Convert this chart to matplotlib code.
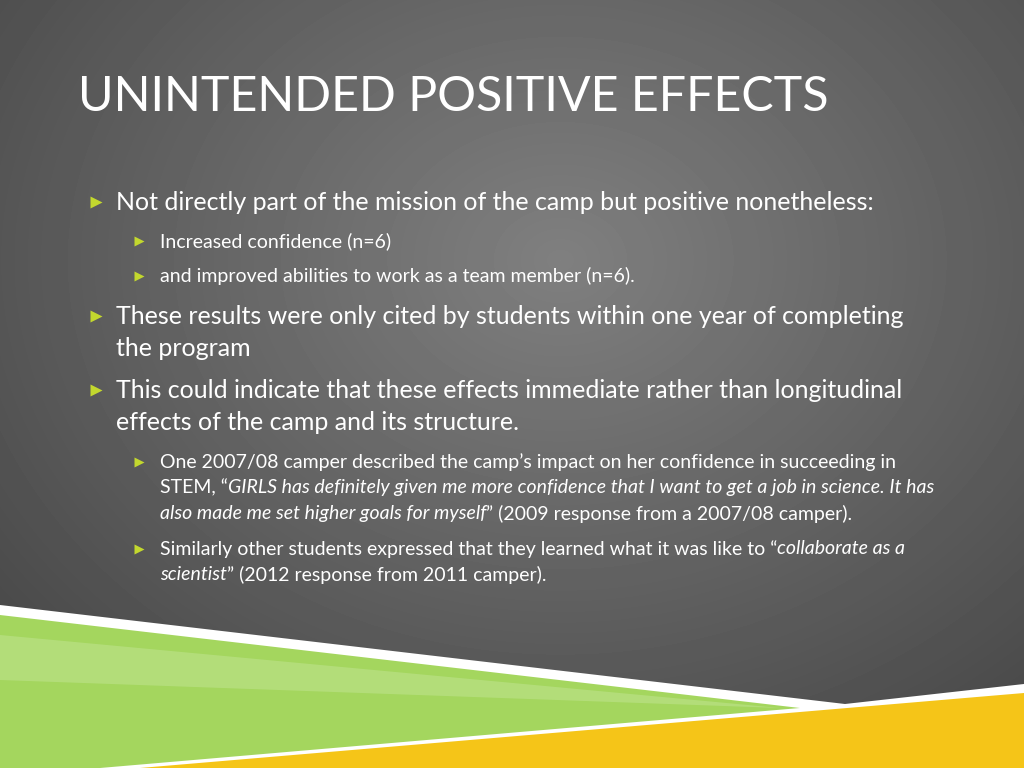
import numpy as np
import matplotlib
matplotlib.use("Agg")
import matplotlib.pyplot as plt
from matplotlib.patches import Polygon

W, H = 1024, 768
FONT = "Lato"

TITLE = "UNINTENDED POSITIVE EFFECTS"

# (y, has_bullet, [(text, italic), ...])
LINES_L0 = [
    (202, True, [("Not directly part of the mission of the camp but positive nonetheless:", False)]),
    (316, True, [("These results were only cited by students within one year of completing", False)]),
    (349, False, [("the program", False)]),
    (390, True, [("This could indicate that these effects immediate rather than longitudinal", False)]),
    (423, False, [("effects of the camp and its structure.", False)]),
]
LINES_L1 = [
    (241, True, [("Increased confidence (n=6)", False)]),
    (276, True, [("and improved abilities to work as a team member (n=6).", False)]),
    (462, True, [("One 2007/08 camper described the camp\u2019s impact on her confidence in succeeding in", False)]),
    (488, False, [("STEM, \u201c", False),
                  ("GIRLS has definitely given me more confidence that I want to get a job in science. It has", True)]),
    (514, False, [("also made me set higher goals for myself", True),
                  ("\u201d (2009 response from a 2007/08 camper).", False)]),
    (549, True, [("Similarly other students expressed that they learned what it was like to \u201c", False),
                 ("collaborate as a", True)]),
    (575, False, [("scientist", True), ("\u201d (2012 response from 2011 camper).", False)]),
]

fig = plt.figure(figsize=(10.24, 7.68), dpi=100)
ax = fig.add_axes([0, 0, 1, 1])
ax.set_xlim(0, W)
ax.set_ylim(H, 0)
ax.axis("off")

# radial gray background
yy, xx = np.mgrid[0:H, 0:W]
r = np.sqrt(((xx - 560) / 750.0) ** 2 + ((yy - 260) / 600.0) ** 2)
bg = np.clip(0.50 - 0.22 * r, 0.25, 0.52)
ax.imshow(bg, cmap="gray", vmin=0, vmax=1, extent=(0, W, H, 0), zorder=0)

# bottom shapes
ax.add_patch(Polygon([(0, 605), (845, 704), (1024, 684), (1024, 768), (0, 768)],
                     closed=True, fc="white", ec="none", zorder=1))
ax.add_patch(Polygon([(0, 615), (800, 708), (100, 768), (0, 768)],
                     closed=True, fc="#a4d65e", ec="none", zorder=2))
ax.add_patch(Polygon([(0, 635), (780, 708), (0, 680)],
                     closed=True, fc="#c2e595", ec="none", alpha=0.5, zorder=2))
ax.add_patch(Polygon([(140, 768), (1024, 693), (1024, 768)],
                     closed=True, fc="#f5c518", ec="none", zorder=2))

ax.text(78, 97, TITLE, color="white", fontsize=34.8, family=FONT, va="center", ha="left", zorder=3)

fig.canvas.draw()
renderer = fig.canvas.get_renderer()
inv = ax.transData.inverted()


def draw_line(x, y, segs, size):
    for txt, ital in segs:
        t = ax.text(x, y, txt, color="white", fontsize=size, family=FONT,
                    style="italic" if ital else "normal", va="center", ha="left", zorder=3)
        bb = t.get_window_extent(renderer=renderer)
        x = inv.transform((bb.x1, bb.y0))[0]


bullet_col = "#c3d82e"
for y, bul, segs in LINES_L0:
    if bul:
        ax.plot(96, y, marker=">", ms=9, color=bullet_col, zorder=3, mec="none")
    draw_line(116, y, segs, 18)
for y, bul, segs in LINES_L1:
    if bul:
        ax.plot(139, y, marker=">", ms=7, color=bullet_col, zorder=3, mec="none")
    draw_line(160, y, segs, 14)

fig.savefig("out.png", dpi=100)
